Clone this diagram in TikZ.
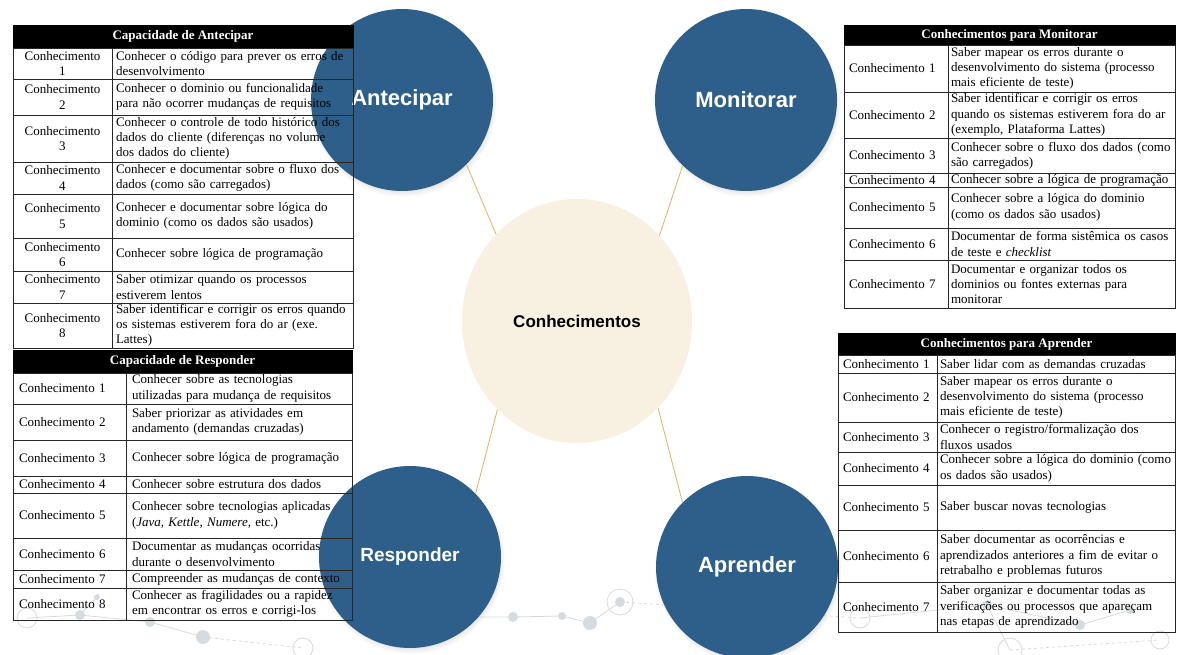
\documentclass[tikz,border=0pt]{standalone}
\usepackage{fontspec}
\setmainfont{Liberation Serif}
\setsansfont{Liberation Sans}
\usetikzlibrary{shapes.geometric,shadows}

\definecolor{capAzul}{RGB}{45,95,138}
\definecolor{cerneCor}{RGB}{248,240,225}
\definecolor{eloCor}{RGB}{228,176,96}
\definecolor{redeCor}{RGB}{214,219,224}

\tikzset{
  capacidade/.style={circle, fill=capAzul, minimum size=182pt, inner sep=0pt, text=white,
    font=\sffamily\bfseries\fontsize{22}{24}\selectfont,
    circular drop shadow={shadow xshift=1pt, shadow yshift=-3pt, shadow scale=1.03, opacity=.4}},
  cerne/.style={ellipse, fill=cerneCor, minimum width=230pt, minimum height=244pt, inner sep=0pt,
    font=\sffamily\bfseries\fontsize{17}{19}\selectfont},
  elo/.style={draw=eloCor, line width=0.8pt},
  rede/.style={draw=redeCor, line width=0.8pt},
  titulo/.style={fill=black, draw=black, text=white, anchor=north west, inner sep=0pt, outer sep=0pt,
    font=\bfseries\fontsize{13}{15}\selectfont},
  celula/.style={draw=black!85, line width=0.9pt, anchor=north west, inner ysep=0pt, inner xsep=3pt,
    outer sep=0pt, align=left, font=\fontsize{13}{15.3}\selectfont},
  % colunas de cada tabela
  antK/.style={celula, text width=93pt, align=center},
  antT/.style={celula, inner xsep=4pt, text width=233pt},
  resK/.style={celula, inner xsep=6pt, text width=101pt},
  resT/.style={celula, inner xsep=6pt, text width=214pt},
  monK/.style={celula, inner xsep=5pt, text width=94pt},
  monT/.style={celula, text width=221pt},
  aprK/.style={celula, inner xsep=5pt, text width=89pt},
  aprT/.style={celula, text width=232pt},
}

\begin{document}
\begin{tikzpicture}[x=1pt,y=-1pt]
\fill[white] (0,0) rectangle (1177,655);
\useasboundingbox (0,0) rectangle (1177,655);

% rede clara no rodape
\draw[rede] (80,615) -- (97,597) (80,615) -- (150,622) -- (203,637) (27,618) -- (80,615);
\draw[rede, dashed] (203,637) -- (303,648) (620,602) -- (860,618) (1010,650) -- (1160,640);
\draw[rede] (460,617) -- (513,617) -- (562,616) -- (590,623) -- (620,602);
\draw[rede] (860,618) -- (987,605) -- (1080,625) -- (1130,610) (987,605) -- (1010,650);
\foreach \x/\y/\r in {80/615/5, 97/597/3, 150/622/5, 203/637/7, 460/617/5, 513/617/5,
    562/616/4, 590/623/7, 620/602/5, 987/605/5, 1080/625/5, 1130/610/4}
  \fill[redeCor] (\x,\y) circle[radius=\r pt];
\foreach \x/\y/\r in {27/618/10, 303/648/10, 620/602/13, 860/618/10, 1010/650/12, 1160/640/9}
  \draw[rede] (\x,\y) circle[radius=\r pt];

% circulos
\node[cerne] (conh) at (577,321) {Conhecimentos};
\node[capacidade] (ante) at (402,100) {Antecipar};
\node[capacidade] (moni) at (746,100) {Monitorar};
\node[capacidade, font=\sffamily\bfseries\fontsize{19}{21}\selectfont] (resp) at (410,557) {Responder};
\node[capacidade] (apre) at (747,567) {Aprender};

\draw[elo] (ante.-45) -- (conh.133);
\draw[elo] (moni.-134) -- (conh.46);
\draw[elo] (resp.44) -- (conh.-132);
\draw[elo] (apre.135) -- (conh.-47);

% tabela Antecipar
\node[titulo, minimum width=340pt, minimum height=23pt] (antH) at (13,25) {Capacidade de Antecipar};
\node[antK, minimum height=31pt] (ant1) at (antH.south west) {Conhecimento\\1};
\node[antT, minimum height=31pt] (ant1t) at (ant1.north east) {Conhecer o código para prever os erros de\\desenvolvimento};
\node[antK, minimum height=36pt] (ant2) at (ant1.south west) {Conhecimento\\2};
\node[antT, minimum height=36pt] (ant2t) at (ant2.north east) {Conhecer o dominio ou funcionalidade\\para não ocorrer mudanças de requisitos};
\node[antK, minimum height=47pt] (ant3) at (ant2.south west) {Conhecimento\\3};
\node[antT, minimum height=47pt] (ant3t) at (ant3.north east) {Conhecer o controle de todo histórico dos\\dados do cliente (diferenças no volume\\dos dados do cliente)};
\node[antK, minimum height=32pt] (ant4) at (ant3.south west) {Conhecimento\\4};
\node[antT, minimum height=32pt] (ant4t) at (ant4.north east) {Conhecer e documentar sobre o fluxo dos\\dados (como são carregados)};
\node[antK, minimum height=44pt] (ant5) at (ant4.south west) {Conhecimento\\5};
\node[antT, minimum height=44pt] (ant5t) at (ant5.north east) {Conhecer e documentar sobre lógica do\\dominio (como os dados são usados)};
\node[antK, minimum height=33pt] (ant6) at (ant5.south west) {Conhecimento\\6};
\node[antT, minimum height=33pt] (ant6t) at (ant6.north east) {Conhecer sobre lógica de programação};
\node[antK, minimum height=32pt] (ant7) at (ant6.south west) {Conhecimento\\7};
\node[antT, minimum height=32pt] (ant7t) at (ant7.north east) {Saber otimizar quando os processos\\estiverem lentos};
\node[antK, minimum height=45pt] (ant8) at (ant7.south west) {Conhecimento\\8};
\node[antT, minimum height=45pt] (ant8t) at (ant8.north east) {Saber identificar e corrigir os erros quando\\os sistemas estiverem fora do ar (exe.\\Lattes)};

% tabela Responder
\node[titulo, minimum width=339pt, minimum height=23pt] (resH) at (13,350) {Capacidade de Responder};
\node[resK, minimum height=31pt] (res1) at (resH.south west) {Conhecimento 1};
\node[resT, minimum height=31pt] (res1t) at (res1.north east) {Conhecer sobre as tecnologias\\utilizadas para mudança de requisitos};
\node[resK, minimum height=36pt] (res2) at (res1.south west) {Conhecimento 2};
\node[resT, minimum height=36pt] (res2t) at (res2.north east) {Saber priorizar as atividades em\\andamento (demandas cruzadas)};
\node[resK, minimum height=36pt] (res3) at (res2.south west) {Conhecimento 3};
\node[resT, minimum height=36pt] (res3t) at (res3.north east) {Conhecer sobre lógica de programação};
\node[resK, minimum height=17pt] (res4) at (res3.south west) {Conhecimento 4};
\node[resT, minimum height=17pt] (res4t) at (res4.north east) {Conhecer sobre estrutura dos dados};
\node[resK, minimum height=45pt] (res5) at (res4.south west) {Conhecimento 5};
\node[resT, minimum height=45pt] (res5t) at (res5.north east) {Conhecer sobre tecnologias aplicadas\\(\textit{Java, Kettle, Numere}, etc.)};
\node[resK, minimum height=32pt] (res6) at (res5.south west) {Conhecimento 6};
\node[resT, minimum height=32pt] (res6t) at (res6.north east) {Documentar as mudanças ocorridas\\durante o desenvolvimento};
\node[resK, minimum height=18pt] (res7) at (res6.south west) {Conhecimento 7};
\node[resT, minimum height=18pt] (res7t) at (res7.north east) {Compreender as mudanças de contexto};
\node[resK, minimum height=32pt] (res8) at (res7.south west) {Conhecimento 8};
\node[resT, minimum height=32pt] (res8t) at (res8.north east) {Conhecer as fragilidades ou a rapidez\\em encontrar os erros e corrigi-los};

% tabela Monitorar
\node[titulo, minimum width=331pt, minimum height=20pt] (monH) at (844,25) {Conhecimentos para Monitorar};
\node[monK, minimum height=47pt] (mon1) at (monH.south west) {Conhecimento 1};
\node[monT, minimum height=47pt] (mon1t) at (mon1.north east) {Saber mapear os erros durante o\\desenvolvimento do sistema (processo\\mais eficiente de teste)};
\node[monK, minimum height=46pt] (mon2) at (mon1.south west) {Conhecimento 2};
\node[monT, minimum height=46pt] (mon2t) at (mon2.north east) {Saber identificar e corrigir os erros\\quando os sistemas estiverem fora do ar\\(exemplo, Plataforma Lattes)};
\node[monK, minimum height=35pt] (mon3) at (mon2.south west) {Conhecimento 3};
\node[monT, minimum height=35pt] (mon3t) at (mon3.north east) {Conhecer sobre o fluxo dos dados (como\\são carregados)};
\node[monK, minimum height=14pt] (mon4) at (mon3.south west) {Conhecimento 4};
\node[monT, minimum height=14pt] (mon4t) at (mon4.north east) {Conhecer sobre a lógica de programação};
\node[monK, minimum height=41pt] (mon5) at (mon4.south west) {Conhecimento 5};
\node[monT, minimum height=41pt] (mon5t) at (mon5.north east) {Conhecer sobre a lógica do dominio\\(como os dados são usados)};
\node[monK, minimum height=32pt] (mon6) at (mon5.south west) {Conhecimento 6};
\node[monT, minimum height=32pt] (mon6t) at (mon6.north east) {Documentar de forma sistêmica os casos\\de teste e \textit{checklist}};
\node[monK, minimum height=48pt] (mon7) at (mon6.south west) {Conhecimento 7};
\node[monT, minimum height=48pt] (mon7t) at (mon7.north east) {Documentar e organizar todos os\\dominios ou fontes externas para\\monitorar};

% tabela Aprender
\node[titulo, minimum width=337pt, minimum height=22pt] (aprH) at (838,333) {Conhecimentos para Aprender};
\node[aprK, minimum height=18pt] (apr1) at (aprH.south west) {Conhecimento 1};
\node[aprT, minimum height=18pt] (apr1t) at (apr1.north east) {Saber lidar com as demandas cruzadas};
\node[aprK, minimum height=49pt] (apr2) at (apr1.south west) {Conhecimento 2};
\node[aprT, minimum height=49pt] (apr2t) at (apr2.north east) {Saber mapear os erros durante o\\desenvolvimento do sistema (processo\\mais eficiente de teste)};
\node[aprK, minimum height=30pt] (apr3) at (apr2.south west) {Conhecimento 3};
\node[aprT, minimum height=30pt] (apr3t) at (apr3.north east) {Conhecer o registro/formalização dos\\fluxos usados};
\node[aprK, minimum height=33pt] (apr4) at (apr3.south west) {Conhecimento 4};
\node[aprT, minimum height=33pt] (apr4t) at (apr4.north east) {Conhecer sobre a lógica do dominio (como\\os dados são usados)};
\node[aprK, minimum height=45pt] (apr5) at (apr4.south west) {Conhecimento 5};
\node[aprT, minimum height=45pt] (apr5t) at (apr5.north east) {Saber buscar novas tecnologias};
\node[aprK, minimum height=52pt] (apr6) at (apr5.south west) {Conhecimento 6};
\node[aprT, minimum height=52pt] (apr6t) at (apr6.north east) {Saber documentar as ocorrências e\\aprendizados anteriores a fim de evitar o\\retrabalho e problemas futuros};
\node[aprK, minimum height=50pt] (apr7) at (apr6.south west) {Conhecimento 7};
\node[aprT, minimum height=50pt] (apr7t) at (apr7.north east) {Saber organizar e documentar todas as\\verificações ou processos que apareçam\\nas etapas de aprendizado};
\end{tikzpicture}
\end{document}
